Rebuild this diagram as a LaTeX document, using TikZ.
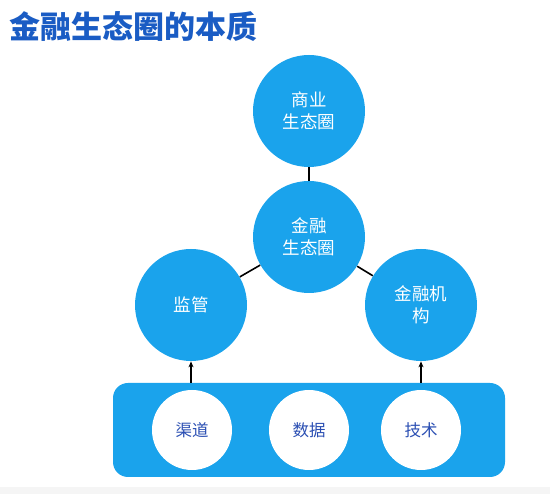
\documentclass[tikz,border=0pt]{standalone}
\usepackage{fontspec}
\newfontfamily\cjk{Noto Sans CJK SC}
\usetikzlibrary{arrows.meta}
\definecolor{eco}{HTML}{1AA3EC}
\definecolor{ink}{HTML}{2B4FB3}
\definecolor{ttl}{HTML}{1A5CC4}
\tikzset{every picture/.style={line width=0.75pt}}
\tikzset{
  bigc/.style={circle,fill=eco,minimum size=112pt,inner sep=0pt,text=white,align=center,font=\cjk\fontsize{17.5}{22}\selectfont},
  smallc/.style={circle,fill=white,minimum size=80pt,inner sep=0pt,text=ink,font=\cjk\fontsize{16.5}{20}\selectfont},
  link/.style={draw=black,line width=1.6pt},
  up/.style={link,-{Stealth[length=6pt,width=5pt]}}
}
\begin{document}
\begin{tikzpicture}[x=1pt,y=1pt,yscale=-1,xscale=1]
\useasboundingbox (0,0) rectangle (550,494);
\fill[white] (0,0) rectangle (550,494);
%strip at the bottom
\fill[black!4] (0,487) rectangle (550,494);

% Title
\node[anchor=west,inner sep=0pt,text=ttl,font=\cjk\bfseries\fontsize{31}{34}\selectfont] (title) at (9,27) {金融生态圈的本质};

% Circles
\node[bigc] (biz) at (309,111) {商业\\生态圈};
\node[bigc] (fin) at (309,237) {金融\\生态圈};
\node[bigc] (reg) at (191,305) {监管};
\node[bigc] (inst) at (421,305) {金融机\\构};

% Base box
\fill[eco,rounded corners=15pt] (113,383) rectangle (505,477);
\node[smallc] (chan) at (192,430) {渠道};
\node[smallc] (data) at (309,430) {数据};
\node[smallc] (tech) at (421,430) {技术};

\coordinate (boxl) at (191,383);
\coordinate (boxr) at (421,383);

% Connectors
\draw[link] (biz) -- (fin);
\draw[link] (fin) -- (reg);
\draw[link] (fin) -- (inst);
\draw[up] (boxl) -- (reg);
\draw[up] (boxr) -- (inst);
\end{tikzpicture}
\end{document}
